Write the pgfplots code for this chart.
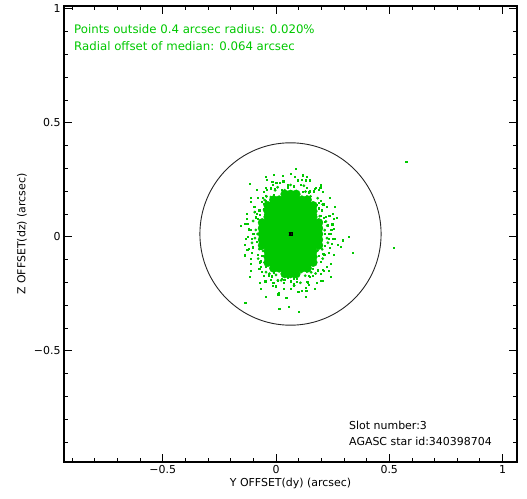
\documentclass[border=0pt]{standalone}
\usepackage{pgfplots}
\pgfplotsset{compat=1.18}
\usepackage{fontspec}
\setmainfont{DejaVu Sans}
\definecolor{ptgreen}{RGB}{0,200,0}
\newcommand{\plotfont}{\fontsize{11}{13}\selectfont}
\newcommand{\notefont}{\fontsize{11.8}{14}\selectfont}
\begin{document}
\begin{tikzpicture}
\begin{axis}[
  at={(0,0)}, anchor=south west,
  scale only axis, width=453bp, height=456bp,
  xmin=-0.936, xmax=1.064, ymin=-0.988, ymax=1.012,
  axis line style={line width=1.6bp},
  xtick={-0.5,0,0.5,1}, xticklabels={−0.5,0,0.5,1},
  ytick={-0.5,0,0.5,1}, yticklabels={−0.5,0,0.5,1},
  minor xtick={-0.9,-0.8,-0.7,-0.6,-0.4,-0.3,-0.2,-0.1,0.1,0.2,0.3,0.4,0.6,0.7,0.8,0.9},
  minor ytick={-0.9,-0.8,-0.7,-0.6,-0.4,-0.3,-0.2,-0.1,0.1,0.2,0.3,0.4,0.6,0.7,0.8,0.9},
  tick align=inside, xtick pos=both, ytick pos=both,
  xticklabel pos=lower, yticklabel pos=left,
  major tick length=8bp, minor tick length=4bp,
  tick style={black, line width=0.8bp},
  tick label style={font=\plotfont},
  label style={font=\plotfont},
  xlabel={Y OFFSET(dy) (arcsec)},
  ylabel={Z OFFSET(dz) (arcsec)},
  xlabel style={at={(axis description cs:0.5,-0.048)}, anchor=center},
  ylabel style={at={(axis description cs:-0.0927,0.5)}, anchor=center},
  speck/.style={only marks, mark=square*, ptgreen, mark options={draw=none}},
]
% sparse outer scatter and the two points beyond the 0.4 arcsec circle
\addplot[speck, mark size=0.55pt] coordinates {
(-0.136,-0.290)(0.337,-0.069)(-0.118,0.233)(-0.155,0.050)(-0.140,-0.081)
(0.014,-0.315)(0.102,-0.330)(0.058,-0.308)(0.286,-0.045)(0.293,-0.015)
(0.322,0.000)(0.249,0.102)(0.198,0.226)(0.132,0.248)(0.088,0.299)
(-0.044,0.262)(-0.067,-0.227)(0.205,-0.191)(0.242,-0.176)(-0.118,-0.176)
(-0.126,0.000)(0.234,-0.147)(-0.111,0.153)(0.132,-0.264)(-0.044,-0.264)
(0.575,0.328)(0.518,-0.047)
};
% outer ring of the cloud
\addplot[speck, mark size=0.55pt] coordinates {
(0.231,0.012)(0.255,0.079)(0.235,0.093)(0.238,0.171)(0.196,0.157)
(0.174,0.216)(0.146,0.197)(0.117,0.270)(0.096,0.251)(0.050,0.229)
(0.030,0.266)(-0.013,0.227)(-0.042,0.252)(-0.058,0.171)(-0.082,0.172)
(-0.084,0.102)(-0.128,0.103)(-0.122,0.033)(-0.103,0.012)(-0.127,-0.055)
(-0.107,-0.069)(-0.110,-0.147)(-0.068,-0.133)(-0.046,-0.192)(-0.018,-0.173)
(0.011,-0.246)(0.032,-0.227)(0.079,-0.205)(0.098,-0.242)(0.141,-0.203)
(0.170,-0.228)(0.186,-0.147)(0.210,-0.148)(0.212,-0.078)(0.256,-0.079)
(0.250,-0.009)
};
% speckled fringe, outer part
\addplot[speck, mark size=0.6pt] coordinates {
(-0.103,0.012)(-0.128,0.080)(-0.074,0.116)(-0.084,0.205)(-0.024,0.213)
(0.024,0.208)(0.064,0.277)(0.108,0.229)(0.147,0.200)(0.205,0.196)
(0.202,0.116)(0.267,0.082)(0.242,0.012)(0.214,-0.040)(0.241,-0.120)
(0.185,-0.147)(0.147,-0.176)(0.115,-0.238)(0.064,-0.195)(0.010,-0.252)
(-0.024,-0.189)(-0.046,-0.132)(-0.111,-0.120)(-0.102,-0.046)
(-0.122,0.033)(-0.080,0.080)(-0.111,0.172)(-0.044,0.180)(-0.017,0.241)
(0.032,0.244)(0.078,0.222)(0.134,0.265)(0.172,0.212)(0.181,0.140)
(0.259,0.131)(0.230,0.051)(0.257,-0.010)(0.234,-0.069)(0.196,-0.109)
(0.196,-0.194)(0.143,-0.209)(0.090,-0.184)(0.045,-0.267)(0.006,-0.194)
(-0.048,-0.195)(-0.074,-0.140)(-0.082,-0.078)(-0.139,-0.035)
(-0.136,0.058)(-0.095,0.109)(-0.056,0.145)(-0.045,0.215)(-0.009,0.273)
(0.050,0.226)(0.096,0.248)(0.148,0.248)(0.195,0.215)(0.208,0.143)
(0.212,0.082)(0.253,0.034)(0.274,-0.036)(0.213,-0.079)(0.205,-0.143)
(0.179,-0.202)(0.133,-0.238)(0.079,-0.214)(0.036,-0.190)(-0.016,-0.213)
(-0.073,-0.201)(-0.071,-0.112)(-0.109,-0.071)(-0.135,-0.010)
};
% speckled fringe, middle part
\addplot[speck, mark size=0.6pt] coordinates {
(0.215,0.012)(0.238,-0.049)(0.189,-0.082)(0.198,-0.163)(0.144,-0.171)
(0.100,-0.166)(0.064,-0.228)(0.024,-0.184)(-0.011,-0.158)(-0.064,-0.154)
(-0.061,-0.082)(-0.120,-0.052)(-0.097,0.012)(-0.072,0.060)(-0.096,0.132)
(-0.046,0.156)(-0.011,0.182)(0.018,0.238)(0.064,0.200)(0.113,0.251)
(0.144,0.195)(0.164,0.142)(0.223,0.132)(0.214,0.065)
(0.233,-0.007)(0.194,-0.049)(0.223,-0.133)(0.162,-0.141)(0.138,-0.196)
(0.093,-0.198)(0.051,-0.178)(0.000,-0.217)(-0.034,-0.169)(-0.042,-0.104)
(-0.112,-0.096)(-0.086,-0.023)(-0.111,0.032)(-0.090,0.086)(-0.056,0.122)
(-0.056,0.198)(-0.007,0.212)(0.040,0.190)(0.082,0.265)(0.117,0.198)
(0.165,0.200)(0.189,0.150)(0.197,0.093)(0.248,0.055)
(0.245,-0.029)(0.208,-0.076)(0.173,-0.108)(0.163,-0.172)(0.130,-0.224)
(0.077,-0.182)(0.035,-0.202)(-0.012,-0.202)(-0.055,-0.172)(-0.066,-0.107)
(-0.070,-0.052)(-0.107,-0.008)(-0.126,0.056)(-0.071,0.095)(-0.064,0.152)
(-0.040,0.206)(0.001,0.238)(0.050,0.217)(0.089,0.195)(0.137,0.216)
(0.188,0.205)(0.187,0.125)(0.220,0.087)(0.244,0.032)
};
% speckled fringe, inner part
\addplot[only marks, mark=*, mark size=1.2pt, ptgreen, mark options={draw=none}] coordinates {
(0.200,0.012)(0.220,0.067)(0.176,0.096)(0.184,0.169)(0.136,0.176)
(0.097,0.171)(0.064,0.227)(0.028,0.188)(-0.003,0.164)(-0.050,0.161)
(-0.048,0.096)(-0.101,0.069)(-0.081,0.012)(-0.058,-0.031)(-0.079,-0.096)
(-0.035,-0.117)(-0.003,-0.140)(0.023,-0.191)(0.064,-0.156)(0.108,-0.202)
(0.136,-0.152)(0.154,-0.105)(0.206,-0.096)(0.198,-0.035)
(0.215,0.029)(0.181,0.067)(0.206,0.142)(0.151,0.149)(0.130,0.198)
(0.090,0.200)(0.053,0.182)(0.007,0.217)(-0.023,0.174)(-0.031,0.116)
(-0.094,0.108)(-0.070,0.043)(-0.093,-0.006)(-0.074,-0.054)(-0.044,-0.087)
(-0.044,-0.155)(0.000,-0.167)(0.043,-0.147)(0.080,-0.214)(0.111,-0.155)
(0.155,-0.156)(0.176,-0.111)(0.183,-0.061)(0.229,-0.026)
(0.226,0.049)(0.193,0.090)(0.161,0.120)(0.152,0.177)(0.123,0.224)
(0.075,0.186)(0.038,0.204)(-0.004,0.204)(-0.042,0.177)(-0.053,0.118)
(-0.056,0.069)(-0.089,0.030)(-0.106,-0.027)(-0.057,-0.062)(-0.050,-0.113)
(-0.029,-0.162)(0.008,-0.191)(0.052,-0.172)(0.086,-0.152)(0.129,-0.171)
(0.175,-0.161)(0.174,-0.089)(0.204,-0.055)(0.225,-0.006)
};
% dense core
\addplot[only marks, mark=*, mark size=4.2pt, ptgreen, mark options={draw=none}] coordinates {
(0.039,0.187)(0.064,0.187)(0.089,0.187)
(-0.011,0.162)(0.014,0.162)(0.039,0.162)(0.064,0.162)(0.089,0.162)(0.114,0.162)(0.139,0.162)
(-0.036,0.137)(-0.011,0.137)(0.014,0.137)(0.039,0.137)(0.064,0.137)(0.089,0.137)(0.114,0.137)(0.139,0.137)(0.164,0.137)
(-0.036,0.112)(-0.011,0.112)(0.014,0.112)(0.039,0.112)(0.064,0.112)(0.089,0.112)(0.114,0.112)(0.139,0.112)(0.164,0.112)
(-0.036,0.087)(-0.011,0.087)(0.014,0.087)(0.039,0.087)(0.064,0.087)(0.089,0.087)(0.114,0.087)(0.139,0.087)(0.164,0.087)
(-0.061,0.062)(-0.036,0.062)(-0.011,0.062)(0.014,0.062)(0.039,0.062)(0.064,0.062)(0.089,0.062)(0.114,0.062)(0.139,0.062)(0.164,0.062)(0.189,0.062)
(-0.061,0.037)(-0.036,0.037)(-0.011,0.037)(0.014,0.037)(0.039,0.037)(0.064,0.037)(0.089,0.037)(0.114,0.037)(0.139,0.037)(0.164,0.037)(0.189,0.037)
(-0.061,0.012)(-0.036,0.012)(-0.011,0.012)(0.014,0.012)(0.039,0.012)(0.064,0.012)(0.089,0.012)(0.114,0.012)(0.139,0.012)(0.164,0.012)(0.189,0.012)
(-0.061,-0.013)(-0.036,-0.013)(-0.011,-0.013)(0.014,-0.013)(0.039,-0.013)(0.064,-0.013)(0.089,-0.013)(0.114,-0.013)(0.139,-0.013)(0.164,-0.013)(0.189,-0.013)
(-0.061,-0.038)(-0.036,-0.038)(-0.011,-0.038)(0.014,-0.038)(0.039,-0.038)(0.064,-0.038)(0.089,-0.038)(0.114,-0.038)(0.139,-0.038)(0.164,-0.038)(0.189,-0.038)
(-0.036,-0.063)(-0.011,-0.063)(0.014,-0.063)(0.039,-0.063)(0.064,-0.063)(0.089,-0.063)(0.114,-0.063)(0.139,-0.063)(0.164,-0.063)
(-0.036,-0.088)(-0.011,-0.088)(0.014,-0.088)(0.039,-0.088)(0.064,-0.088)(0.089,-0.088)(0.114,-0.088)(0.139,-0.088)(0.164,-0.088)
(-0.036,-0.113)(-0.011,-0.113)(0.014,-0.113)(0.039,-0.113)(0.064,-0.113)(0.089,-0.113)(0.114,-0.113)(0.139,-0.113)(0.164,-0.113)
(-0.011,-0.138)(0.014,-0.138)(0.039,-0.138)(0.064,-0.138)(0.089,-0.138)(0.114,-0.138)(0.139,-0.138)
(0.039,-0.163)(0.064,-0.163)(0.089,-0.163)
};
% median position
\addplot[only marks, mark=x, mark size=2.2pt, black, line width=0.8bp] coordinates {(0.064,0.012)};
\addplot[only marks, mark=square, mark size=1.6pt, black, line width=0.6bp] coordinates {(0.064,0.012)};
% 0.4 arcsec radius around the median
\draw[line width=0.9bp, black!85] (axis cs:0.064,0.012) ellipse [x radius=0.4, y radius=0.4];
\end{axis}
\node[anchor=base west, inner sep=0pt, text=ptgreen, font=\notefont] at (10bp,428bp) {Points outside 0.4 arcsec radius: 0.020\%};
\node[anchor=base west, inner sep=0pt, text=ptgreen, font=\notefont] at (10bp,411bp) {Radial offset of median: 0.064 arcsec};
\node[anchor=base west, inner sep=0pt, font=\plotfont] at (285bp,33bp) {Slot number:3};
\node[anchor=base west, inner sep=0pt, font=\plotfont] at (285bp,17bp) {AGASC star id:340398704};
\pgfresetboundingbox
\path[use as bounding box] (-64bp,-37bp) rectangle (463bp,462bp);
\end{tikzpicture}
\end{document}
